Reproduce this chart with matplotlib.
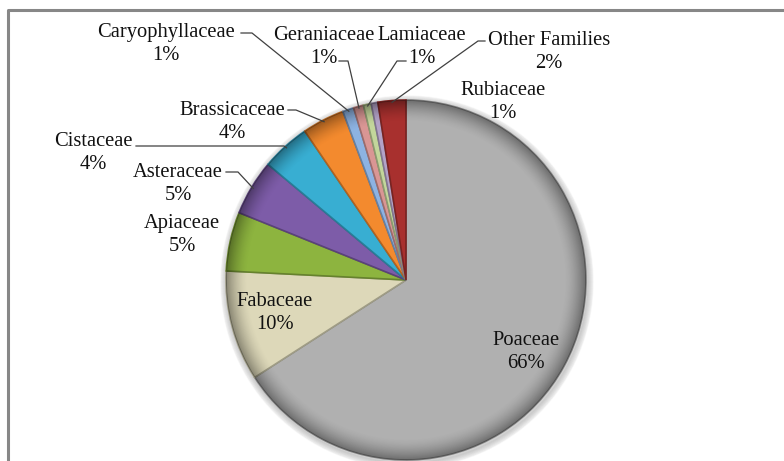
import matplotlib.pyplot as plt
import matplotlib.colors as mcolors
import numpy as np

# pie data (share of species per family, %)
families = ['Poaceae', 'Fabaceae', 'Apiaceae', 'Asteraceae', 'Cistaceae', 'Brassicaceae',
            'Caryophyllaceae', 'Geraniaceae', 'Lamiaceae', 'Rubiaceae', 'Other Families']
shares = [65.9, 9.9, 5.3, 5.0, 4.4, 3.8, 1.0, 0.9, 0.7, 0.6, 2.5]
shown_pct = ['66%', '10%', '5%', '5%', '4%', '4%', '1%', '1%', '1%', '1%', '2%']
colors = ['#b0b0b0', '#ddd8b9', '#8db43f', '#7d5ca8', '#38aed2', '#f38a2e',
          '#8db3e2', '#d99694', '#c3d69b', '#b3a2c7', '#a8302e']

W, H = 784, 461


def px(x, y):
    # pixel position (from top-left) -> data coords
    return x, H - y


fig = plt.figure(figsize=(W / 100, H / 100), dpi=100)
ax = fig.add_axes([0, 0, 1, 1])
ax.set_xlim(0, W)
ax.set_ylim(0, H)
ax.set_aspect('equal')
ax.axis('off')

cx, cy = px(406, 280)
R = 180

# soft shadow round the pie
for k in range(6):
    ax.add_patch(plt.Circle((cx + 1, cy - 2), R + 1 + k, color='#000000', alpha=0.03, zorder=0))

wedges, _ = ax.pie(shares, colors=colors, startangle=90, counterclock=False,
                   center=(cx, cy), radius=R, frame=True,
                   wedgeprops=dict(linewidth=1.2))
for w, c in zip(wedges, colors):
    w.set_edgecolor(tuple(v * 0.72 for v in mcolors.to_rgb(c)))
    w.set_zorder(2)

# bevel-like shading: darker towards the rim
n = 500
gx, gy = np.meshgrid(np.linspace(cx - R, cx + R, n), np.linspace(cy - R, cy + R, n))
rr = np.hypot(gx - cx, gy - cy) / R
alpha = np.clip((rr - 0.88) / 0.12, 0, 1) ** 1.6 * 0.38
shade = np.zeros((n, n, 4))
shade[..., 3] = alpha
im = ax.imshow(shade, extent=(cx - R, cx + R, cy - R, cy + R), origin='lower', zorder=3)
im.set_clip_path(plt.Circle((cx, cy), R, transform=ax.transData))
ax.set_xlim(0, W)
ax.set_ylim(0, H)

# chart frame (cut on the right and bottom)
ax.plot([8, 8, W], [0, H - 10, H - 10], color='#878787', lw=2.2, zorder=5)

# label layout: block centre, leader start, leader elbow (pixels)
label_pos = {
    'Poaceae': (526, 352, None, None),
    'Fabaceae': (275, 313, None, None),
    'Apiaceae': (182, 235, None, None),
    'Asteraceae': (178, 184, (226, 172), (238, 172)),
    'Cistaceae': (93, 153, (136, 146), (284, 146)),
    'Brassicaceae': (232, 122, (288, 110), (296, 110)),
    'Caryophyllaceae': (166, 44, (241, 33), (252, 33)),
    'Geraniaceae': (324, 47, (339, 61), (348, 61)),
    'Lamiaceae': (422, 47, (406, 61), (397, 61)),
    'Rubiaceae': (503, 102, None, None),
    'Other Families': (549, 52, (485, 41), (478, 41)),
}

font = dict(family=['Liberation Serif', 'DejaVu Serif'], size=14.8, color='#111111')

for w, name, pct in zip(wedges, families, shown_pct):
    x, y, start, elbow = label_pos[name]
    ax.text(*px(x, y), name + '\n' + pct, ha='center', va='center',
            linespacing=1.35, zorder=6, **font)
    if start is not None:
        mid = np.deg2rad((w.theta1 + w.theta2) / 2)
        ex, ey = cx + R * 0.99 * np.cos(mid), cy + R * 0.99 * np.sin(mid)
        sx, sy = px(*start)
        bx, by = px(*elbow)
        ax.plot([sx, bx, ex], [sy, by, ey], color='#404040', lw=0.9, zorder=6)

fig.savefig('out.png', dpi=100)
